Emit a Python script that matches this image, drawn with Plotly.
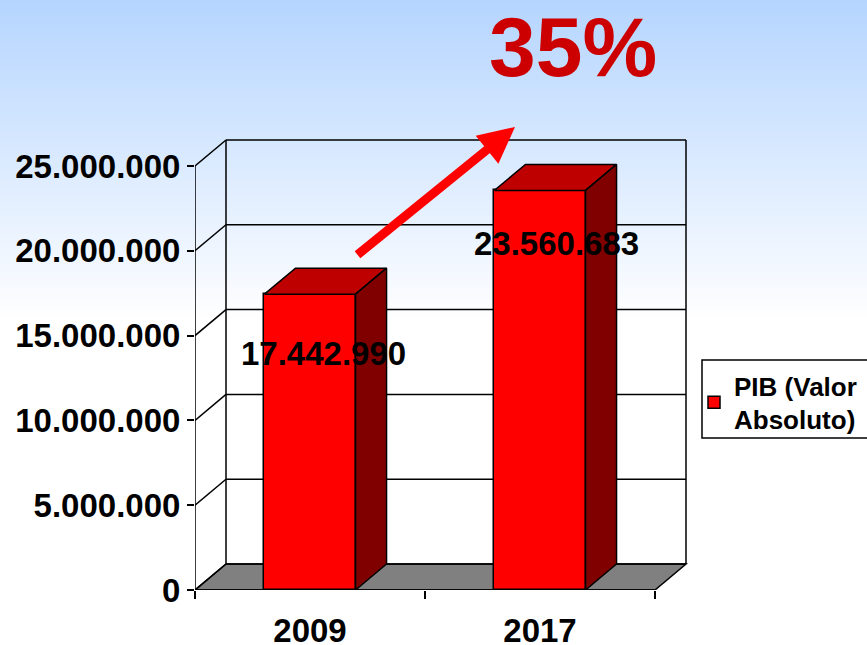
import plotly.graph_objects as go

CATEGORIES = ["2009", "2017"]
PIB = [17442990, 23560683]
VALUE_LABELS = ["17.442.990", "23.560.683"]
Y_TICKS = [0, 5000000, 10000000, 15000000, 20000000, 25000000]
Y_LABELS = ["0", "5.000.000", "10.000.000", "15.000.000", "20.000.000", "25.000.000"]
SERIES = "PIB (Valor<br>Absoluto)"
GROWTH = "35%"

W, H = 867, 645
L, R, T, B = 195, 691, 136, 590
UY = 25000000 / 424.0      # value per pixel
UX = 1 / 230.0             # category per pixel
DX = 31 * UX
DY = 26 * UY
BW = 0.396
XL, XR = -0.5, 1.5
FONT = "Liberation Sans, Arial, sans-serif"
xpos = list(range(len(CATEGORIES)))

def px(x): return (x - L) / (R - L)
def py(y): return (B - y) / (B - T)

shapes = []
# page gradient: overlapping bands, so no seams appear
top = (181, 213, 255)
END = 320
for y0 in range(0, END, 2):
    t = y0 / END
    c = tuple(round(a + (255 - a) * t) for a in top)
    shapes.append(dict(type="rect", xref="paper", yref="paper", x0=px(0), x1=px(W), y0=py(y0), y1=py(y0 + 6),
                       line=dict(width=0), fillcolor="rgb(%d,%d,%d)" % c, layer="below"))
# legend frame
shapes.append(dict(type="rect", xref="paper", yref="paper", x0=px(702), x1=px(870), y0=py(360), y1=py(438),
                   line=dict(color="black", width=1.5), fillcolor="white", layer="below"))

LINE = dict(color="black", width=1.5)
def seg(x0, y0, x1, y1, w=1.5):
    shapes.append(dict(type="line", xref="x", yref="y", x0=x0, y0=y0, x1=x1, y1=y1,
                       line=dict(color="black", width=w), layer="below"))

# floor
shapes.append(dict(type="path", xref="x", yref="y", layer="below",
                   path=f"M{XL},0 L{XL+DX},{DY} L{XR+DX},{DY} L{XR},0 Z",
                   fillcolor="#808080", line=LINE))
# grid on the walls
for v in Y_TICKS:
    seg(XL, v, XL + DX, v + DY)
    seg(XL + DX, v + DY, XR + DX, v + DY)
seg(XL + DX, DY, XL + DX, Y_TICKS[-1] + DY)
seg(XR + DX, DY, XR + DX, Y_TICKS[-1] + DY)

fig = go.Figure()
fig.add_trace(go.Bar(x=xpos, y=PIB, width=BW, name=SERIES, showlegend=True,
                     marker=dict(color="#FF0000", line=dict(color="black", width=1.5)),
                     hoverinfo="skip"))
for x, v in zip(xpos, PIB):
    a, b = x - BW / 2, x + BW / 2
    fig.add_trace(go.Scatter(x=[a, a + DX, b + DX, b, a], y=[v, v + DY, v + DY, v, v], mode="lines",
                             fill="toself", fillcolor="#BF0000", line=dict(color="black", width=1.5),
                             showlegend=False, hoverinfo="skip"))
    fig.add_trace(go.Scatter(x=[b, b + DX, b + DX, b, b], y=[v, v + DY, DY, 0, v], mode="lines",
                             fill="toself", fillcolor="#800000", line=dict(color="black", width=1.5),
                             showlegend=False, hoverinfo="skip"))
# axis lines (not clipped at the plot edge)
fig.add_trace(go.Scatter(x=[XL, XL, XR], y=[Y_TICKS[-1], 0, 0], mode="lines", cliponaxis=False,
                         line=dict(color="black", width=1.5), showlegend=False, hoverinfo="skip"))

annotations = []
LABEL_SHIFT = [(13, -59), (16, -53)]
for x, v, s, (sx, sy) in zip(xpos, PIB, VALUE_LABELS, LABEL_SHIFT):
    annotations.append(dict(x=x, y=v, xref="x", yref="y", text="<b>%s</b>" % s, showarrow=False,
                            xshift=sx, yshift=sy, font=dict(family=FONT, size=33, color="black")))
annotations.append(dict(x=px(572.5), y=py(47), xref="paper", yref="paper", xanchor="center", yanchor="middle",
                        text="<b>%s</b>" % GROWTH, showarrow=False,
                        font=dict(family=FONT, size=84, color="#CC0000")))
annotations.append(dict(x=px(515), y=py(127), xref="paper", yref="paper", text="", showarrow=True,
                        ax=356 - 515, ay=256 - 127, axref="pixel", ayref="pixel",
                        arrowhead=2, arrowsize=0.8, arrowwidth=9, arrowcolor="#FF0000"))

fig.update_layout(
    width=W, height=H, margin=dict(l=L, r=W - R, t=T, b=H - B, pad=0, autoexpand=False),
    paper_bgcolor="white", plot_bgcolor="rgba(0,0,0,0)", shapes=shapes, annotations=annotations,
    font=dict(family=FONT, color="black"), showlegend=True, bargap=0,
    legend=dict(xref="container", yref="container", x=694 / W, y=1 - 362 / H, xanchor="left", yanchor="top",
                bgcolor="rgba(0,0,0,0)", borderwidth=0,
                font=dict(family=FONT, size=26, weight="bold"),
                entrywidth=125, entrywidthmode="pixels", itemwidth=30, tracegroupgap=0),
    xaxis=dict(range=[XL, XL + (R - L) * UX], tickmode="array", tickvals=xpos, ticktext=CATEGORIES,
               ticks="", showgrid=False, zeroline=False, showline=False, fixedrange=True,
               tickfont=dict(family=FONT, size=33, weight="bold", color="black"), ticklabelstandoff=18,
               minor=dict(tickmode="array", tickvals=[XL, 0.5, XR], ticks="outside", ticklen=8,
                          tickwidth=1.5, tickcolor="black", showgrid=False)),
    yaxis=dict(range=[0, (B - T) * UY], tickmode="array", tickvals=Y_TICKS, ticktext=Y_LABELS,
               ticks="outside", ticklen=7, tickwidth=1.5, tickcolor="black", showgrid=False,
               zeroline=False, showline=False, fixedrange=True,
               tickfont=dict(family=FONT, size=33, weight="bold", color="black")),
)
fig.write_html("out.html", config=dict(displayModeBar=False),
               post_script="document.body.style.margin='0';document.body.style.overflow='hidden';")
